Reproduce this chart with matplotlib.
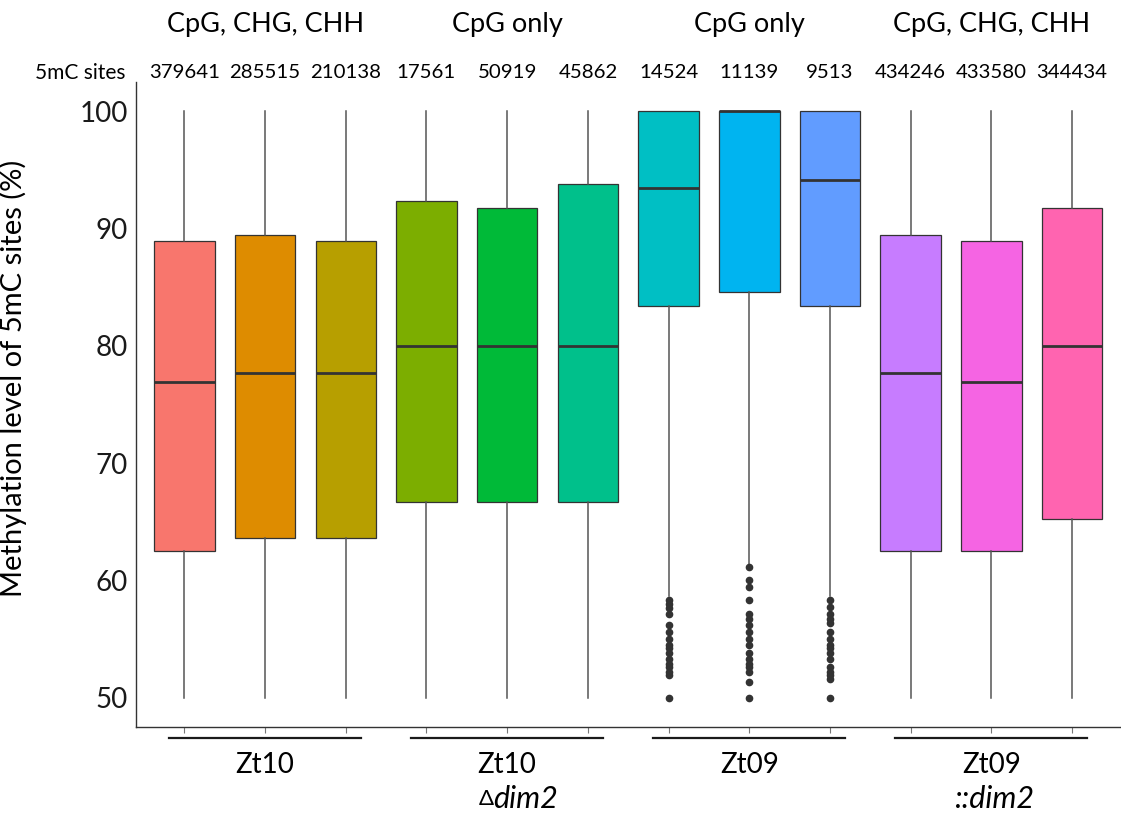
import matplotlib
matplotlib.use("Agg")
import matplotlib.pyplot as plt
from matplotlib.transforms import blended_transform_factory

plt.rcParams["font.family"] = ["Lato", "DejaVu Sans"]

# --- data -------------------------------------------------------------------
sample_counts = ["379641", "285515", "210138", "17561", "50919", "45862",
                 "14524", "11139", "9513", "434246", "433580", "344434"]
box_colors = ["#F8766D", "#DE8C00", "#B79F00", "#7CAE00", "#00BA38", "#00C08B",
              "#00BFC4", "#00B4F0", "#619CFF", "#C77CFF", "#F564E3", "#FF64B0"]

q1 = [62.5, 63.6, 63.6, 66.7, 66.7, 66.7, 83.4, 84.6, 83.4, 62.5, 62.5, 65.2]
median = [76.9, 77.7, 77.7, 80.0, 80.0, 80.0, 93.4, 100.0, 94.1, 77.7, 76.9, 80.0]
q3 = [88.9, 89.4, 88.9, 92.3, 91.7, 93.8, 100.0, 100.0, 100.0, 89.4, 88.9, 91.7]
whisker_low = [50, 50, 50, 50, 50, 50, 58.7, 61.4, 58.7, 50, 50, 50]
whisker_high = [100] * 12

outliers = {
    7: [58.3, 58.0, 57.6, 57.1, 56.2, 55.6, 55.0, 54.5, 54.2, 53.8, 53.3,
        52.9, 52.6, 52.2, 51.9, 50.0],
    8: [61.1, 60.0, 59.4, 58.3, 57.1, 56.7, 56.2, 55.6, 55.0, 54.5, 53.8,
        53.3, 52.9, 52.6, 52.2, 51.3, 50.0],
    9: [58.3, 57.7, 57.1, 56.7, 56.4, 55.6, 55.0, 54.5, 54.2, 53.8, 53.3,
        52.6, 52.2, 51.9, 51.6, 50.0],
}

context_labels = ["CpG, CHG, CHH", "CpG only", "CpG only", "CpG, CHG, CHH"]
strain_labels = ["Zt10", "Zt10", "Zt09", "Zt09"]

# --- figure -------------------------------------------------------------------
fig = plt.figure(figsize=(11.21, 8.13), dpi=100)
ax = fig.add_axes([0.1213, 0.1058, 0.8782, 0.7937])

positions = list(range(1, 13))
stats = []
for i in range(12):
    stats.append({
        "med": median[i], "q1": q1[i], "q3": q3[i],
        "whislo": whisker_low[i], "whishi": whisker_high[i],
        "fliers": outliers.get(i + 1, []),
    })

bp = ax.bxp(
    stats, positions=positions, widths=0.75, patch_artist=True, showcaps=False,
    boxprops=dict(edgecolor="#333333", linewidth=0.9),
    medianprops=dict(color="#333333", linewidth=2.0),
    whiskerprops=dict(color="#555555", linewidth=1.1),
    flierprops=dict(marker="o", markersize=4.5, markerfacecolor="#333333",
                    markeredgecolor="#333333"),
)
for patch, c in zip(bp["boxes"], box_colors):
    patch.set_facecolor(c)

ax.set_xlim(0.4, 12.6)
ax.set_ylim(47.5, 102.5)
ax.set_yticks([50, 60, 70, 80, 90, 100])
ax.tick_params(axis="y", length=0, pad=6, labelsize=20, labelcolor="#1a1a1a")
ax.set_xticks(positions)
ax.set_xticklabels([""] * 12)
ax.tick_params(axis="x", length=4, color="#777777")

for side in ("top", "right"):
    ax.spines[side].set_visible(False)
for side in ("left", "bottom"):
    ax.spines[side].set_color("#333333")
    ax.spines[side].set_linewidth(1.0)

ax.set_ylabel("Methylation level of 5mC sites (%)", fontsize=21)
ax.yaxis.set_label_coords(-0.111, 0.541)

trans = blended_transform_factory(ax.transData, ax.transAxes)

# header rows
for g, lab in enumerate(context_labels):
    ax.text(3 * g + 2, 1.088, lab, transform=trans, ha="center", va="center",
            fontsize=19.5, clip_on=False)
ax.text(-0.29, 1.0135, "5mC sites", transform=trans, ha="center", va="center",
        fontsize=15, clip_on=False)
for x, n in zip(positions, sample_counts):
    ax.text(x, 1.0135, n, transform=trans, ha="center", va="center",
            fontsize=14.7, clip_on=False)

# group lines and strain labels under the axis
for g, lab in enumerate(strain_labels):
    x0 = 3 * g + 1 - 0.19
    x1 = 3 * g + 3 + 0.19
    ax.plot([x0, x1], [-0.017, -0.017], transform=trans, color="#1a1a1a",
            linewidth=1.6, clip_on=False)
    ax.text(3 * g + 2, -0.059, lab, transform=trans, ha="center", va="center",
            fontsize=20, clip_on=False)

ax.text(4.83, -0.112, "\u0394", transform=trans, ha="right", va="center",
        fontsize=16, clip_on=False)
ax.text(4.83, -0.112, "dim2", transform=trans, ha="left", va="center",
        fontsize=22, style="italic", clip_on=False)
ax.text(11.05, -0.112, "::dim2", transform=trans, ha="center", va="center",
        fontsize=22, style="italic", clip_on=False)

fig.savefig("out.png", dpi=100)
